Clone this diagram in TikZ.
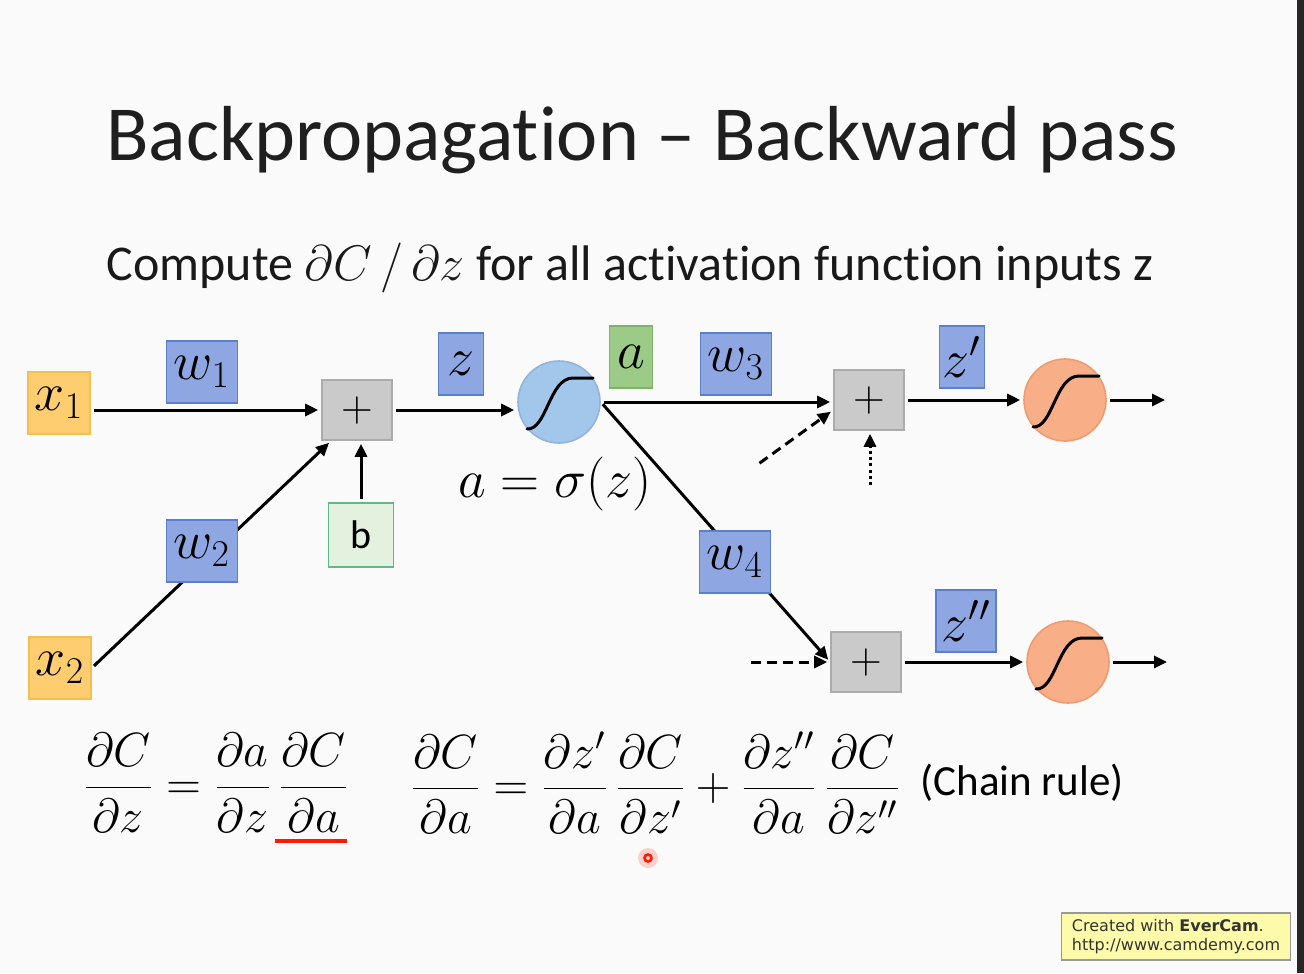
\RequirePackage{fix-cm}
\documentclass[tikz,border=0pt]{standalone}
\usepackage{fontspec}
\setmainfont{Carlito}[Ligatures={TeX,NoCommon}]
\newfontfamily\markfont{DejaVu Sans}
\usetikzlibrary{arrows.meta,calc,positioning}
\definecolor{BackpropPage}{HTML}{FAFAFA}
\definecolor{BackpropEdge}{HTML}{262626}
\definecolor{BackpropOrange}{HTML}{FDCD70}
\definecolor{BackpropOrangeLine}{HTML}{F5BE4E}
\definecolor{BackpropBlue}{HTML}{8EA7E2}
\definecolor{BackpropBlueLine}{HTML}{5B7FD0}
\definecolor{BackpropGray}{HTML}{CACACA}
\definecolor{BackpropGrayLine}{HTML}{ABABAB}
\definecolor{BackpropSoftGreen}{HTML}{E3F1DE}
\definecolor{BackpropSoftGreenLine}{HTML}{5DBB8A}
\definecolor{BackpropGreen}{HTML}{9CCB87}
\definecolor{BackpropGreenLine}{HTML}{7DB468}
\definecolor{BackpropSky}{HTML}{A3C6EB}
\definecolor{BackpropSkyLine}{HTML}{8FB5DD}
\definecolor{BackpropPeach}{HTML}{F8AE86}
\definecolor{BackpropPeachLine}{HTML}{EE9B6E}
\definecolor{BackpropNote}{HTML}{FDFBA9}
\definecolor{BackpropRed}{HTML}{FF1A00}

\begin{document}
\begin{tikzpicture}[
  x=0.5pt, y=-0.5pt,
  font=\fontsize{27}{32}\selectfont,
  box/.style={draw, line width=0.8pt, inner sep=0pt, minimum height=31pt},
  inbox/.style={box, draw=BackpropOrangeLine, fill=BackpropOrange, minimum width=31pt},
  wbox/.style={box, draw=BackpropBlueLine, fill=BackpropBlue, minimum width=35.5pt},
  zbox/.style={box, draw=BackpropBlueLine, fill=BackpropBlue, minimum width=22.5pt},
  sumbox/.style={box, draw=BackpropGrayLine, fill=BackpropGray, minimum width=35pt, minimum height=30pt,
    font=\fontsize{22}{26}\selectfont},
  biasbox/.style={box, draw=BackpropSoftGreenLine, fill=BackpropSoftGreen, minimum width=32.5pt,
    minimum height=32pt, font=\fontsize{20}{24}\selectfont},
  actbox/.style={box, draw=BackpropGreenLine, fill=BackpropGreen, minimum width=21.5pt},
  neuron/.style={circle, draw=BackpropSkyLine, fill=BackpropSky, line width=0.8pt, minimum size=41pt, inner sep=0pt},
  outneuron/.style={neuron, draw=BackpropPeachLine, fill=BackpropPeach},
  arr/.style={-{Triangle[length=6.5pt,width=6pt]}, line width=1.5pt, shorten >=1.5pt, shorten <=1.5pt},
  dasharr/.style={arr, dash pattern=on 5pt off 3pt},
  dotarr/.style={arr, dash pattern=on 1.5pt off 1.6pt},
  curve/.style={line width=1.5pt, line cap=round}
]
\useasboundingbox (0,0) rectangle (1304,973);
\fill[BackpropPage] (0,0) rectangle (1304,973);
\fill[BackpropEdge] (1297,0) rectangle (1304,973);

% title
\node[font=\fontsize{39}{46}\selectfont, text=black!88] (title) at (642,140) {Backpropagation \textendash\ Backward pass};
\node[font=\fontsize{25}{30}\selectfont, text=black!90] (task) at (630,268)
  {Compute $\partial C\,/\,\partial z$ for all activation function inputs z};

% first layer
\node[inbox] (x1) at (59,403) {$x_1$};
\node[inbox] (x2) at (60,668) {$x_2$};
\node[sumbox] (plus1) at (357,410) {$+$};
\node[biasbox] (b) at (361,535) {b};
\node[neuron] (sig1) at (559,402) {};

\draw[arr] (x1.east |- plus1.west) -- (plus1.west);
\draw[arr] (x2.east) -- ([xshift=5pt]plus1.south west);
\draw[arr] (b.north) -- (b.north |- plus1.south);
\draw[arr] (plus1.east) -- (plus1.east -| sig1.west);

\node[wbox] (w1) at (202,372) {$w_1$};
\node[wbox] (w2) at (202,551) {$w_2$};
\node[zbox] (z) at (461,364) {$z$};
\node[actbox] (a) at (631,357) {$a$};
\node (act) at (555,484) {$a=\sigma(z)$};

% next layer
\node[sumbox] (plus2) at (869,400) {$+$};
\node[sumbox] (plus3) at (866,662) {$+$};
\node[outneuron] (sig2) at (1065,400) {};
\node[outneuron] (sig3) at (1068,662) {};
\coordinate (in2) at (757,465);
\coordinate (in3) at (870,488);
\coordinate (in4) at (748,662);
\coordinate (out2) at (1168,400);
\coordinate (out3) at (1170,662);

\draw[arr] (sig1.east) -- (sig1.east -| plus2.west);
\draw[arr] (sig1.east) -- (plus3.west);
\draw[dasharr] (in2) -- ([yshift=-5pt]plus2.west);
\draw[dotarr] (in3) -- (in3 |- plus2.south);
\draw[dasharr] (in4) -- (plus3.west);
\draw[arr] (plus2) -- (sig2);
\draw[arr] (plus3) -- (sig3);
\draw[arr] (sig2) -- (out2);
\draw[arr] (sig3) -- (out3);

\node[wbox] (w3) at (736,364) {$w_3$};
\node[wbox] (w4) at (735,562) {$w_4$};
\node[zbox] (z1) at (962,357) {$z'$};
\node[zbox, minimum width=30pt] (z2) at (966,621) {$z''$};

% sigmoid marks
\foreach \s in {sig1,sig2,sig3}
  \draw[curve, shift={(\s.center)}] (-32,27) .. controls (-12,28) and (-10,-24) .. (14,-24) -- (34,-24);

% chain rule
\node[font=\fontsize{24}{28}\selectfont] (eq1) at (216,783)
  {$\displaystyle\frac{\partial C}{\partial z}=\frac{\partial a}{\partial z}\,\frac{\partial C}{\partial a}$};
\node[font=\fontsize{24}{28}\selectfont, anchor=west] (eq2) at (404,783)
  {$\displaystyle\frac{\partial C}{\partial a}=\frac{\partial z'}{\partial a}\,\frac{\partial C}{\partial z'}
   +\frac{\partial z''}{\partial a}\,\frac{\partial C}{\partial z''}$};
\node[font=\fontsize{21.5}{26}\selectfont, right=3pt of eq2] (chain) {(Chain rule)};
\draw[BackpropRed, line width=2pt] (275,841) -- (347,841);

% pointer
\fill[BackpropRed, opacity=0.18] (648,858) circle (10);
\draw[BackpropRed, line width=1.3pt] (648,858) circle (3.5);

% watermark
\node[draw=gray!80, fill=BackpropNote, line width=0.6pt, minimum width=114.5pt, minimum height=23.5pt,
  inner sep=2pt, align=left, text=black!80, font=\markfont\fontsize{8}{9.5}\selectfont] (mark) at (1176,936.5)
  {Created with \textbf{EverCam}.\\http://www.camdemy.com};
\end{tikzpicture}
\end{document}
